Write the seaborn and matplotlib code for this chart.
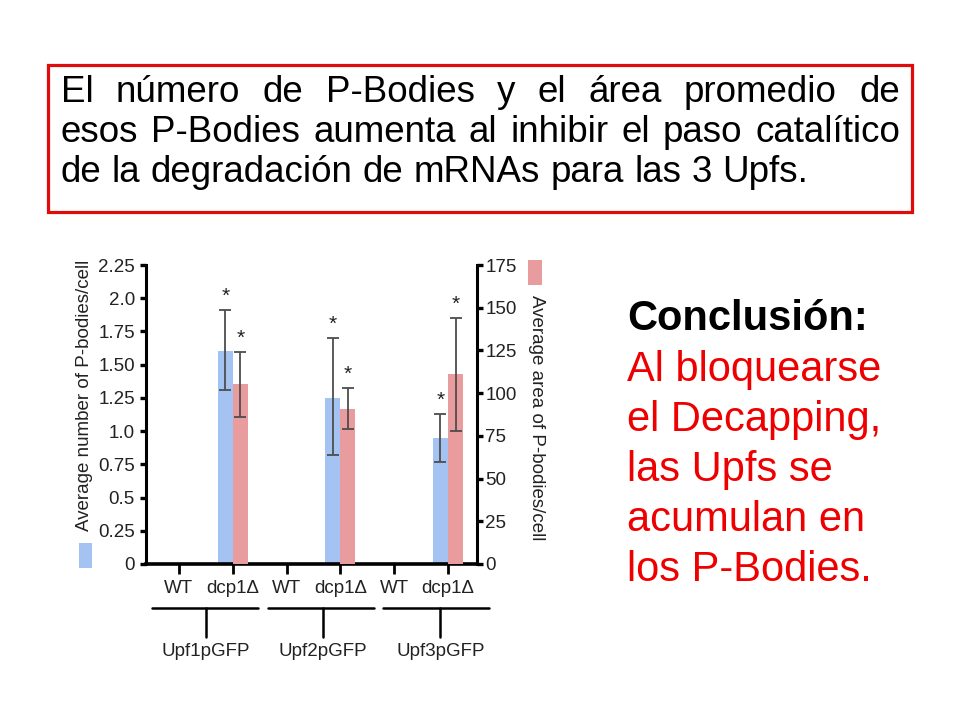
import numpy as np
import pandas as pd
import matplotlib
matplotlib.use("Agg")
import matplotlib.pyplot as plt
from matplotlib.patches import Rectangle
import seaborn as sns

## data
strains = ["Upf1pGFP", "Upf2pGFP", "Upf3pGFP"]
genotypes = ["WT", "dcp1Δ"]
# average number of P-bodies per cell (left axis), WT has no bars
pb_number = [0, 1.60, 0, 1.25, 0, 0.95]
pb_number_lo = [np.nan, 1.31, np.nan, 0.82, np.nan, 0.77]
pb_number_hi = [np.nan, 1.91, np.nan, 1.70, np.nan, 1.13]
# average area of P-bodies per cell (right axis)
pb_area = [0, 105.5, 0, 91, 0, 111]
pb_area_lo = [np.nan, 86, np.nan, 79, np.nan, 78]
pb_area_hi = [np.nan, 124, np.nan, 103, np.nan, 144]
left_ticks = [0, 0.25, 0.5, 0.75, 1.0, 1.25, 1.50, 1.75, 2.0, 2.25]
left_tick_labels = ["0", "0.25", "0.5", "0.75", "1.0", "1.25", "1.50", "1.75", "2.0", "2.25"]
right_ticks = [0, 25, 50, 75, 100, 125, 150, 175]

title_lines = [
    "El número de P-Bodies y el área promedio de",
    "esos P-Bodies aumenta al inhibir el paso catalítico",
    "de la degradación de mRNAs para las 3 Upfs.",
]
conclusion_head = "Conclusión:"
conclusion_lines = ["Al bloquearse", "el Decapping,", "las Upfs se", "acumulan en", "los P-Bodies."]

blue = "#a4c2f2"
red = "#e99c9e"
box_red = "#e00c0c"
text_red = "#ee0000"

sns.set_theme(style="white")
plt.rcParams["font.family"] = ["Liberation Sans", "DejaVu Sans"]

W, H = 960, 720
fig = plt.figure(figsize=(9.6, 7.2), dpi=100)

## tidy table for seaborn
conds = [f"{s} {g}" for s in strains for g in genotypes]
df = pd.DataFrame({
    "cond": conds * 2,
    "value": pb_number + pb_area,
    "series": ["number"] * 6 + ["area"] * 6,
})
pal = {"number": blue, "area": red}

ax = fig.add_axes([146 / W, 1 - 564 / H, (477 - 146) / W, (564 - 265) / H])
ax2 = ax.twinx()

for a, name in [(ax, "number"), (ax2, "area")]:
    sns.barplot(data=df[df.series == name], x="cond", y="value", hue="series",
                hue_order=["number", "area"], order=conds, palette=pal, width=0.56,
                dodge=True, saturation=1, errorbar=None, linewidth=0,
                legend=False, ax=a)

# error bars + significance stars, matched to the bars seaborn drew
for a, lo, hi in [(ax, pb_number_lo, pb_number_hi), (ax2, pb_area_lo, pb_area_hi)]:
    for bar in list(a.patches):
        xc = bar.get_x() + bar.get_width() / 2
        i = int(round(xc))
        if np.isnan(lo[i]):
            continue
        l, h = lo[i], hi[i]
        a.errorbar(xc, (l + h) / 2, yerr=(h - l) / 2, fmt="none", ecolor="#4d4d4d",
                   elinewidth=1.3, capsize=4.5, capthick=1.3, zorder=5)
        a.annotate("*", (xc, h), xytext=(0, 3), textcoords="offset points",
                   ha="center", va="bottom", fontsize=15, color="#222222")

ax.set_ylim(0, 2.25)
ax2.set_ylim(0, 175)
ax.set_xlim(-0.613, 5.539)
ax.set_yticks(left_ticks, left_tick_labels)
ax2.set_yticks(right_ticks, [str(t) for t in right_ticks])
ax.set_xticks(range(6), genotypes * 3)
for a in (ax, ax2):
    a.set_xlabel(None)
    a.set_ylabel(None)
    a.grid(False)

ax.spines["top"].set_visible(False)
ax.spines["right"].set_visible(False)
ax.spines["left"].set_linewidth(2.2)
ax.spines["bottom"].set_linewidth(2.6)
for s in ("top", "left", "bottom"):
    ax2.spines[s].set_visible(False)
ax2.spines["right"].set_linewidth(2.2)
for sp in list(ax.spines.values()) + list(ax2.spines.values()):
    sp.set_color("black")

ax.tick_params(axis="y", direction="out", length=4, width=2.4, labelsize=13.5,
               pad=4, colors="black", labelcolor="#222222", left=True)
ax2.tick_params(axis="y", direction="out", length=4, width=2.4, labelsize=13.5,
                pad=2, colors="black", labelcolor="#222222", right=True)
ax.tick_params(axis="x", direction="out", length=7.5, width=2, labelsize=13.5,
               pad=4, colors="black", labelcolor="#222222", bottom=True)

# strain grouping below the x labels
xt = ax.get_xaxis_transform()
for k, s in enumerate(strains):
    x0 = 2 * k - 0.5 + 0.15 * k
    ax.plot([x0, x0 + 1.97], [-0.147, -0.147], color="black", lw=1.8,
            transform=xt, clip_on=False)
    xc = 2 * k + 0.5 + 0.18 * k
    ax.plot([xc, xc], [-0.147, -0.245], color="black", lw=1.8,
            transform=xt, clip_on=False)
    ax.text(xc, -0.293, s, transform=xt, ha="center", va="center",
            fontsize=13.5, color="#222222")

# axis titles with their colour keys
fig.text(85 / W, 1 - 395 / H, "Average number of P-bodies/cell", rotation=90,
         ha="center", va="center", fontsize=13.5, color="#222222")
fig.text(537 / W, 1 - 418 / H, "Average area of P-bodies/cell", rotation=270,
         ha="center", va="center", fontsize=13.5, color="#222222")
fig.add_artist(Rectangle((79 / W, 1 - 568 / H), 13 / W, 25 / H,
                         transform=fig.transFigure, color=blue, lw=0))
fig.add_artist(Rectangle((528 / W, 1 - 285 / H), 14 / W, 25 / H,
                         transform=fig.transFigure, color=red, lw=0))

# title box with justified text
fig.add_artist(Rectangle((48 / W, 1 - 212 / H), 864 / W, 147 / H, transform=fig.transFigure,
                         fill=False, edgecolor=box_red, lw=2.3))
renderer = fig.canvas.get_renderer()
tx0, tx1 = 61, 900
fs = 26.5
for i, line in enumerate(title_lines):
    words = line.split()
    arts = [fig.text(0, 1 - (102 + 40 * i) / H, w, fontsize=fs, va="baseline",
                     ha="left", color="black") for w in words]
    widths = [t.get_window_extent(renderer).width for t in arts]
    if i < len(title_lines) - 1:
        gap = (tx1 - tx0 - sum(widths)) / (len(words) - 1)
    else:
        gap = 0.278 * fs * 100 / 72
    xx = tx0
    for t, wd in zip(arts, widths):
        t.set_x(xx / W)
        xx += wd + gap

# conclusion on the right
fig.text(627 / W, 1 - 330 / H, conclusion_head, fontsize=30, fontweight="bold",
         color="black", va="baseline", ha="left")
for i, line in enumerate(conclusion_lines):
    fig.text(627 / W, 1 - (381 + 50 * i) / H, line, fontsize=30, color=text_red,
             va="baseline", ha="left")

fig.savefig("out.png", dpi=100, facecolor="white")
